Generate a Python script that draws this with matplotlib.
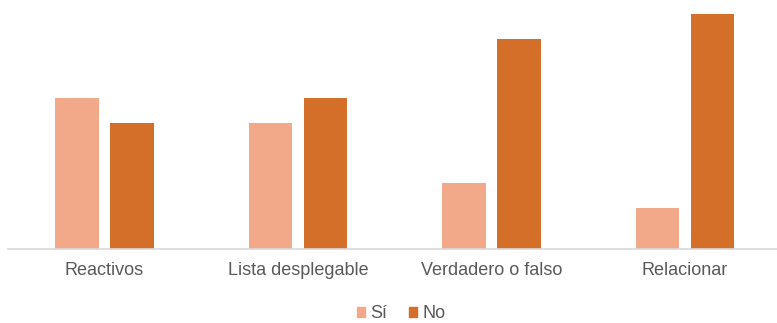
import numpy as np
import matplotlib
matplotlib.use('Agg')
import matplotlib.pyplot as plt
from matplotlib.patches import Patch

# survey answers per question type (percent of respondents)
categories = ['Reactivos', 'Lista desplegable', 'Verdadero o falso', 'Relacionar']
si = [54.5, 45.5, 24, 15]
no = [45.5, 54.5, 76, 85]
series_names = ['Sí', 'No']
colors = ['#F1A98A', '#D46F2A']

plt.rcParams['font.family'] = ['Liberation Sans', 'DejaVu Sans']

fig = plt.figure(figsize=(7.77, 3.23), dpi=100)
ax = fig.add_axes([0.010, 0.2276, 0.990, 0.7724])

x = np.arange(len(categories))
w = 0.224
off = 0.142
ax.bar(x - off, si, w, color=colors[0])
ax.bar(x + off, no, w, color=colors[1])

ax.set_xlim(-0.5, 3.475)
ax.set_ylim(0, 90)
ax.set_xticks(x)
ax.set_xticklabels(categories, fontsize=13, color='#595959')
ax.tick_params(axis='x', length=0, pad=9)
ax.set_yticks([])
for s in ['top', 'right', 'left']:
    ax.spines[s].set_visible(False)
ax.spines['bottom'].set_color('#D9D9D9')
ax.spines['bottom'].set_linewidth(1.2)

handles = [Patch(color=c, label=n) for c, n in zip(colors, series_names)]
fig.legend(handles=handles, loc='center', bbox_to_anchor=(401 / 777, 1 - 314 / 323),
           ncol=2, frameon=False, fontsize=13, labelcolor='#595959',
           handlelength=0.45, handleheight=0.5, handletextpad=0.3, columnspacing=1.2,
           borderpad=0)

plt.savefig('out.png', dpi=100)
